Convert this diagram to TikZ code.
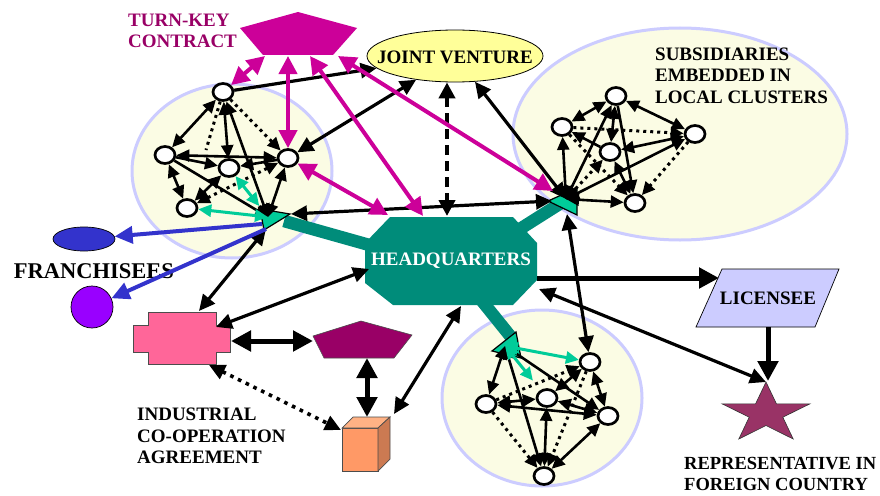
\documentclass[tikz,border=0pt]{standalone}
\usepackage{fontspec}
\setmainfont{Liberation Serif}
\usetikzlibrary{arrows.meta,shapes.geometric}

\definecolor{hqteal}{RGB}{0,140,122}
\definecolor{hubgreen}{RGB}{0,204,153}
\definecolor{tkmag}{RGB}{204,0,153}
\definecolor{tktext}{RGB}{153,0,102}
\definecolor{clfill}{RGB}{251,252,228}
\definecolor{clrim}{RGB}{204,204,255}
\definecolor{jvfill}{RGB}{255,255,153}
\definecolor{frblue}{RGB}{51,51,204}
\definecolor{frpurple}{RGB}{153,0,255}
\definecolor{icpink}{RGB}{255,102,153}
\definecolor{icplum}{RGB}{153,0,102}
\definecolor{cubefront}{RGB}{255,153,102}
\definecolor{cubetop}{RGB}{255,178,133}
\definecolor{cubeside}{RGB}{204,122,82}
\definecolor{licfill}{RGB}{204,204,255}
\definecolor{starfill}{RGB}{153,51,102}

\tikzset{
  sub/.style={ellipse, draw=black, line width=2.7pt, fill=white,
    minimum width=20pt, minimum height=17pt, inner sep=0pt},
  cl/.style={line width=2.6pt, >={Triangle[length=13pt,width=12pt]}},
  cldot/.style={cl, line width=3pt, dash pattern=on 3pt off 4pt},
  lnk/.style={line width=3.2pt, >={Triangle[length=16pt,width=15pt]}},
  lnkdot/.style={lnk, line width=3.6pt, dash pattern=on 3.6pt off 5pt},
  heavy/.style={line width=5pt, >={Triangle[length=20pt,width=20pt]}},
  jvdash/.style={line width=4pt, dash pattern=on 10pt off 6pt, >={Triangle[length=16pt,width=16pt]}},
  mag/.style={draw=tkmag, line width=4pt, >={Triangle[length=18pt,width=18pt]}},
  grn/.style={draw=hubgreen, line width=3pt, >={Triangle[length=13pt,width=12pt]}},
  blu/.style={draw=frblue, line width=4pt, >={Triangle[length=18pt,width=17pt]}},
  band/.style={draw=hqteal, line width=12.5pt},
  hubhead/.style={fill=hubgreen, draw=black, line width=1.2pt},
  cluster/.style={fill=clfill, draw=clrim, line width=3pt},
  lbl/.style={font=\bfseries\fontsize{19}{21.5}\selectfont, align=left, inner sep=0pt},
}

\begin{document}
\begin{tikzpicture}[x=1pt,y=-1pt]
\fill[white] (0,0) rectangle (880,495);
\useasboundingbox (0,0) rectangle (880,495);

% local clusters
\draw[cluster] (232,171) ellipse [x radius=100pt, y radius=87pt];
\draw[cluster] (680,134) ellipse [x radius=167pt, y radius=106pt];
\draw[cluster] (542,398) ellipse [x radius=100pt, y radius=88pt];

% cluster hubs and headquarters attachment points
\coordinate (lh) at (268,217);
\coordinate (rh) at (566,199);
\coordinate (bh) at (505,346);
\coordinate (hql) at (380,248);
\coordinate (hqr) at (512,234);
\coordinate (hqb) at (478,296);
\coordinate (lband) at (284,221);
\coordinate (rband) at (561,203);
\coordinate (bband) at (511,337);

% teal bands from headquarters to the clusters
\draw[band] (hql) -- (lband);
\draw[band] (hqr) -- (rband);
\draw[band] (hqb) -- (bband);
\filldraw[hubhead] (260,209) -- (290,214) -- (264,230) -- cycle;
\filldraw[hubhead] (548,201) -- (577,188) -- (577,215) -- cycle;
\filldraw[hubhead] (492,351) -- (516,332) -- (521,358) -- cycle;

% headquarters
\fill[hqteal] (390,217) -- (513,217) -- (537,243) -- (537,280) -- (513,305)
  -- (393,305) -- (365,283) -- (365,243) -- cycle;
\node[lbl, text=white] (hqt) at (451,261) {HEADQUARTERS};

% turn-key contract
\fill[tkmag] (298,12) -- (357,28) -- (333,55) -- (263,55) -- (240,28) -- cycle;
\node[lbl, text=tktext, anchor=west] (tktxt) at (128,31) {TURN-KEY\\CONTRACT};

% joint venture
\node[ellipse, draw=black, line width=0.8pt, fill=jvfill, minimum width=176pt,
  minimum height=52pt, inner sep=0pt] (jv) at (455,56) {};
\node[lbl] (jvt) at (455,57) {JOINT VENTURE};

% franchisees
\node[ellipse, draw=black, line width=0.7pt, fill=frblue, minimum width=62pt,
  minimum height=24pt, inner sep=0pt] (fr) at (84,239) {};
\node[circle, draw=black, line width=0.7pt, fill=frpurple, minimum size=42pt,
  inner sep=0pt] (pc) at (92,307) {};
\node[lbl, font=\bfseries\fontsize{22.5}{25}\selectfont] (frt) at (94,271) {FRANCHISEES};

% industrial co-operation shapes
\filldraw[fill=icpink, draw=black!70, line width=0.8pt]
  (148,312) -- (216,312) -- (216,325) -- (230,325) -- (230,352) -- (216,352)
  -- (216,364) -- (148,364) -- (148,352) -- (133,352) -- (133,325) -- (148,325) -- cycle;
\filldraw[fill=icplum, draw=black!70, line width=0.6pt]
  (361,321) -- (412,335) -- (394,358) -- (324,358) -- (313,336) -- cycle;
\filldraw[fill=cubefront, draw=black!70, line width=0.7pt] (342,428) rectangle (378,471);
\filldraw[fill=cubetop, draw=black!70, line width=0.7pt]
  (342,428) -- (353,417) -- (390,417) -- (378,428) -- cycle;
\filldraw[fill=cubeside, draw=black!70, line width=0.7pt]
  (378,428) -- (390,417) -- (390,459) -- (378,471) -- cycle;
\node[lbl, anchor=west] (ict) at (137,436) {INDUSTRIAL\\CO-OPERATION\\AGREEMENT};

% licensee and representative
\filldraw[fill=licfill, draw=black, line width=0.7pt]
  (722,269) -- (839,269) -- (815,327) -- (696,327) -- cycle;
\node[lbl] (lict) at (768,298) {LICENSEE};
\filldraw[fill=starfill, draw=black!80, line width=0.6pt]
  (766,382) -- (776.4,403.8) -- (810,403.8) -- (782.8,417.2) -- (793.2,439)
  -- (766,425.5) -- (738.8,439) -- (749.2,417.2) -- (722,403.8) -- (755.6,403.8) -- cycle;
\node[lbl, font=\bfseries\fontsize{18.5}{20.5}\selectfont, anchor=west] (rept) at (684,474)
  {REPRESENTATIVE IN\\FOREIGN COUNTRY};

\node[lbl, anchor=west] (subt) at (655,75.5) {SUBSIDIARIES\\EMBEDDED IN\\LOCAL CLUSTERS};

% subsidiaries
\node[sub] (l1) at (223,92) {};
\node[sub] (l2) at (165,155) {};
\node[sub] (l3) at (229,168) {};
\node[sub] (l4) at (288,158) {};
\node[sub] (l5) at (187,208) {};
\node[sub] (r1) at (616,96) {};
\node[sub] (r2) at (562,127) {};
\node[sub] (r3) at (610,152) {};
\node[sub] (r4) at (695,134) {};
\node[sub] (r5) at (635,203) {};
\node[sub] (b1) at (590,362) {};
\node[sub] (b2) at (486,404) {};
\node[sub] (b3) at (547,398) {};
\node[sub] (b4) at (608,416) {};
\node[sub] (b5) at (544,476) {};

% link end points
\coordinate (lx) at (206,150);
\coordinate (tk1) at (265,56);
\coordinate (tk2) at (288,56);
\coordinate (tk3) at (310,56);
\coordinate (tk4) at (338,56);
\coordinate (hqm1) at (423,216);
\coordinate (hqm2) at (388,215);
\coordinate (rhm) at (553,191);
\coordinate (hqn) at (447,216);
\coordinate (lhr) at (291,214);
\coordinate (rhl) at (552,201);
\coordinate (rhb) at (567,214);
\coordinate (lhf) at (262,224);
\coordinate (lhp) at (266,229);
\coordinate (lhc) at (266,229);
\coordinate (crn) at (199,311);
\coordinate (hqw) at (369,269);
\coordinate (cre) at (216,327);
\coordinate (cubene) at (394,414);
\coordinate (hqs) at (461,306);
\coordinate (hqe) at (537,278);
\coordinate (licw) at (719,278);
\coordinate (hqe2) at (539,289);
\coordinate (stt) at (766,382);
\coordinate (lics) at (768,327);
\coordinate (stt2) at (768,381);
\coordinate (crr) at (231,341);
\coordinate (pgl) at (313,341);
\coordinate (pgb) at (367,358);
\coordinate (cubet) at (367,417);
\coordinate (crse) at (209,365);
\coordinate (cubew) at (341,430);

% left cluster links
\draw[cl,<->] (l1) -- (l2);
\draw[cl,<->] (l1) -- (l3);
\draw[cl,<->] (l1) -- (lh);
\draw[cldot,->] (l1) -- (l4);
\draw[cldot] (l1) -- (lx);
\draw[cl,<->] (l2) -- (l4);
\draw[cl,<->] (l2) -- (l5);
\draw[cl,->] (l2) -- (l3);
\draw[cl,->] (l2) -- (lh);
\draw[cl,->] (l4) -- (l3);
\draw[cl,<->] (l4) -- (lh);
\draw[cl,<->] (l5) -- (l3);
\draw[cldot,<->] (l5) -- (l4);
\draw[grn,<->] (l5) -- (lh);
\draw[grn,<->,shorten >=14pt] (l3) -- (lh);

% right cluster links
\draw[cl,<->] (r1) -- (r2);
\draw[cl,<->] (r1) -- (r4);
\draw[cl,<->] (rh) -- (r2);
\draw[cl,<->] (r1) -- (r3);
\draw[cl,->] (r1) -- (r5);
\draw[cl,<->] (r1) -- (rh);
\draw[cldot,->] (r2) -- (r4);
\draw[cl,<->] (r3) -- (r4);
\draw[cldot,->] (rh) -- (r3);
\draw[cl,<->] (rh) -- (r4);
\draw[cldot,->] (r4) -- (r5);
\draw[cl,<->] (r3) -- (r5);
\draw[cl,<->] (rh) -- (r5);
\draw[cl,->] (r3) -- (r2);
\draw[cldot,->] (r2) -- (r5);

% bottom cluster links
\draw[cl,<->] (bh) -- (b2);
\draw[cl,<->] (bh) -- (b5);
\draw[cl,<->] (bh) -- (b4);
\draw[cl,<->] (b1) -- (b4);
\draw[cl,<->] (b1) -- (b3);
\draw[cl,<->] (b2) -- (b3);
\draw[cl,<->] (b2) -- (b4);
\draw[cl,<->] (b3) -- (b5);
\draw[cl,<->] (b3) -- (b4);
\draw[cldot,->] (b2) -- (b5);
\draw[cldot,->] (b1) -- (b5);
\draw[cl,<->] (b5) -- (b4);
\draw[cldot,->] (b2) -- (b1);
\draw[grn,<->] (bh) -- (b1);
\draw[grn,<->,shorten >=12pt] (bh) -- (b3);

% links between the partners
\draw[lnk,->] (l1) -- (jv);
\draw[lnk,<->] (jv) -- (l4);
\draw[lnk,<->] (jv) -- (rh);
\draw[jvdash,<->] (jv.south -| hqn) -- (hqn);
\draw[lnk,<->] (lhr) -- (rhl);
\draw[lnk,<->] (rhb) -- (b1);
\draw[lnk,<->] (lhc) -- (crn);
\draw[lnk,<->] (hqw) -- (cre);
\draw[lnk,<->] (hqs) -- (cubene);
\draw[lnk,<->] (hqe2) -- (stt);
\draw[heavy,->] (hqe) -- (licw);
\draw[heavy,->] (lics) -- (stt2);
\draw[heavy,<->] (crr) -- (pgl);
\draw[heavy,<->] (pgb) -- (cubet);
\draw[lnkdot,<->] (crse) -- (cubew);
\draw[blu,->] (lhf) -- (fr);
\draw[blu,->] (lhp) -- (pc);

% turn-key contract links
\draw[mag,<->] (tk1) -- (l1);
\draw[mag,<->] (tk2) -- (l4);
\draw[mag,<->] (tk3) -- (hqm1);
\draw[mag,<->] (tk4) -- (rhm);
\draw[mag,<->] (l4) -- (hqm2);
\end{tikzpicture}
\end{document}
